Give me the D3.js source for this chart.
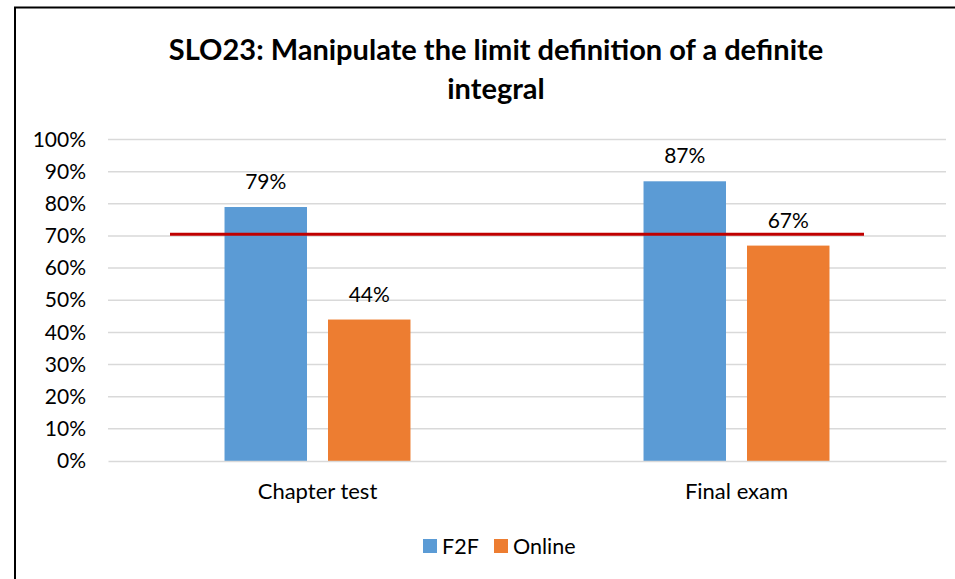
<!DOCTYPE html>
<html>
<head>
<meta charset="utf-8">
<script src="https://cdn.jsdelivr.net/npm/d3@7"></script>
<style>
  body { margin: 0; background: #fff; }
  svg text { font-family: Lato, "Open Sans", sans-serif; fill: #000; }
</style>
</head>
<body>
<div id="chart"></div>
<script>
// chart data
const categories = ['Chapter test', 'Final exam'];
const seriesNames = ['F2F', 'Online'];
const f2fValues = [0.79, 0.87];
const onlineValues = [0.44, 0.67];
const targetValue = 0.705;
const yTicks = [0, 0.1, 0.2, 0.3, 0.4, 0.5, 0.6, 0.7, 0.8, 0.9, 1.0];
const colors = ['#5b9bd5', '#ed7d31'];

const width = 955, height = 579;
const plot = { left: 108, right: 946, top: 139.5, bottom: 461 };

const svg = d3.select('#chart')
    .append('svg')
    .attr('width', width)
    .attr('height', height);

svg.append('rect')
    .attr('width', width)
    .attr('height', height)
    .attr('fill', '#fff');

// outer frame (only top and left are visible in the shot)
svg.append('path')
    .attr('d', `M15,${height} V7.5 H${width}`)
    .attr('fill', 'none')
    .attr('stroke', '#000')
    .attr('stroke-width', 2);

// title
const title = svg.append('text')
    .attr('text-anchor', 'middle')
    .style('font-size', '29px')
    .style('font-weight', 'bold');
title.append('tspan').attr('x', 496).attr('y', 60)
    .text('SLO23: Manipulate the limit definition of a definite');
title.append('tspan').attr('x', 496).attr('y', 99)
    .text('integral');

const x0 = d3.scaleBand()
    .domain(categories)
    .range([plot.left, plot.right]);

const x1 = d3.scaleBand()
    .domain(seriesNames)
    .range([0, x0.bandwidth()])
    .paddingInner(0.203)
    .paddingOuter(1.126);

const y = d3.scaleLinear()
    .domain([0, 1])
    .range([plot.bottom, plot.top]);

// gridlines
svg.append('g')
    .selectAll('line')
    .data(yTicks.slice(1))
    .join('line')
    .attr('x1', plot.left)
    .attr('x2', plot.right)
    .attr('y1', (d) => y(d))
    .attr('y2', (d) => y(d))
    .attr('stroke', '#d9d9d9')
    .attr('stroke-width', 1.5);

// y axis labels
const yAxis = svg.append('g')
    .attr('transform', `translate(${plot.left},0)`)
    .call(d3.axisLeft(y).tickValues(yTicks).tickFormat(d3.format('.0%')).tickSize(0).tickPadding(22));
yAxis.select('.domain').remove();
yAxis.selectAll('text')
    .style('font-size', '21px')
    .attr('font-family', null);

// bars
const rows = categories.map((c, i) => ({
    category: c,
    values: [
        { key: 'F2F', value: f2fValues[i] },
        { key: 'Online', value: onlineValues[i] },
    ],
}));

const groups = svg.append('g')
    .selectAll('g')
    .data(rows)
    .join('g')
    .attr('transform', (d) => `translate(${x0(d.category)},0)`);

groups.selectAll('rect')
    .data((d) => d.values)
    .join('rect')
    .attr('x', (d) => x1(d.key))
    .attr('y', (d) => y(d.value))
    .attr('width', x1.bandwidth())
    .attr('height', (d) => y(0) - y(d.value))
    .attr('fill', (d, i) => colors[i]);

groups.selectAll('text')
    .data((d) => d.values)
    .join('text')
    .attr('x', (d) => x1(d.key) + x1.bandwidth() / 2)
    .attr('y', (d) => y(d.value) - 18)
    .attr('text-anchor', 'middle')
    .style('font-size', '21px')
    .text((d) => d3.format('.0%')(d.value));

// x axis
const xAxis = svg.append('g')
    .attr('transform', `translate(0,${plot.bottom})`)
    .call(d3.axisBottom(x0).tickSize(0).tickPadding(22));
xAxis.select('.domain')
    .attr('stroke', '#d9d9d9')
    .attr('stroke-width', 1.5);
xAxis.selectAll('text')
    .style('font-size', '22px')
    .attr('font-family', null);

// target line
svg.append('line')
    .attr('x1', 170)
    .attr('x2', 864)
    .attr('y1', y(targetValue))
    .attr('y2', y(targetValue))
    .attr('stroke', '#c00000')
    .attr('stroke-width', 3);

// legend
const legend = svg.append('g')
    .attr('transform', 'translate(423,539)');
const legendItems = legend.selectAll('g')
    .data(seriesNames)
    .join('g')
    .attr('transform', (d, i) => `translate(${i * 71},0)`);
legendItems.append('rect')
    .attr('width', 14)
    .attr('height', 14)
    .attr('fill', (d, i) => colors[i]);
legendItems.append('text')
    .attr('x', 19)
    .attr('y', 14.5)
    .style('font-size', '21.5px')
    .text((d) => d);
</script>
</body>
</html>
